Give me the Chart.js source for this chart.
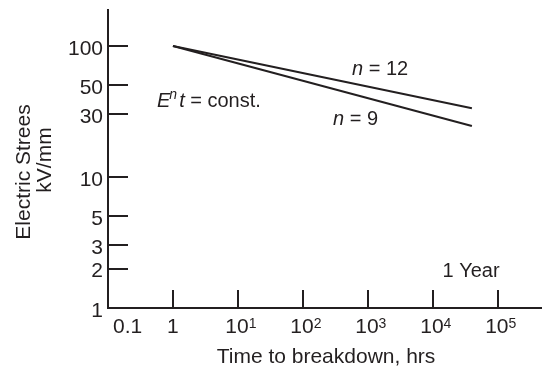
<!DOCTYPE html>
<html lang="en">
<head>
<meta charset="UTF-8" />
<title>Electric stress vs time to breakdown</title>
<style>
  body { margin: 0; background: #fff; }
  #wrap { width: 542px; height: 372px; }
</style>
</head>
<body>
<div id="wrap"><canvas id="lifeChart" width="542" height="372"></canvas></div>
<script src="https://cdn.jsdelivr.net/npm/chart.js"></script>
<script>
  // end points of the two life lines (time in hrs, stress in kV/mm)
  const timeHours = [1, 40000];
  const stressN12 = [100, 33.5];
  const stressN9 = [100, 24.5];

  // axis ticks
  const xTickValues = [0.1, 1, 10, 100, 1000, 10000, 100000];
  const xTickLabels = ['0.1', '1', '10^1', '10^2', '10^3', '10^4', '10^5'];
  const yTickValues = [1, 2, 3, 5, 10, 30, 50, 100];
  const yTickLabels = ['1', '2', '3', '5', '10', '30', '50', '100'];

  const ink = '#231f20';
  const fam = '"Liberation Sans", Arial, sans-serif';

  function toPoints(xs, ys) {
    return xs.map((x, i) => ({ x: x, y: ys[i] }));
  }

  // draws a run of text pieces one after another, [text, font, dy, dx]
  function drawRun(ctx, x, y, parts) {
    ctx.textAlign = 'left';
    ctx.textBaseline = 'alphabetic';
    parts.forEach(p => {
      ctx.font = p[1];
      x += p[3] || 0;
      ctx.fillText(p[0], x, y + (p[2] || 0));
      x += ctx.measureText(p[0]).width;
    });
  }

  const axisDecor = {
    id: 'axisDecor',
    afterDraw(chart) {
      const ctx = chart.ctx;
      const xs = chart.scales.x;
      const ys = chart.scales.y;
      const area = chart.chartArea;
      ctx.save();
      ctx.strokeStyle = ink;
      ctx.fillStyle = ink;
      ctx.lineWidth = 2;

      // inward tick marks
      xTickValues.forEach(v => {
        if (v <= xs.min) return;
        const px = Math.round(xs.getPixelForValue(v));
        ctx.beginPath();
        ctx.moveTo(px, area.bottom);
        ctx.lineTo(px, area.bottom - 18);
        ctx.stroke();
      });
      yTickValues.forEach(v => {
        if (v <= ys.min) return;
        const py = Math.round(ys.getPixelForValue(v));
        ctx.beginPath();
        ctx.moveTo(area.left, py);
        ctx.lineTo(area.left + 20, py);
        ctx.stroke();
      });

      // y tick labels
      ctx.font = '21px ' + fam;
      ctx.textAlign = 'right';
      ctx.textBaseline = 'middle';
      yTickValues.forEach((v, i) => {
        const py = ys.getPixelForValue(v);
        ctx.fillText(yTickLabels[i], area.left - 5, py + 3);
      });

      // x tick labels, powers of ten with a raised exponent
      const base = area.bottom + 25;
      xTickValues.forEach((v, i) => {
        const px = xs.getPixelForValue(v);
        const lab = xTickLabels[i];
        if (lab.indexOf('^') < 0) {
          ctx.font = '21px ' + fam;
          ctx.textBaseline = 'alphabetic';
          if (v <= xs.min) {
            ctx.textAlign = 'left';
            ctx.fillText(lab, px + 5, base);
          } else {
            ctx.textAlign = 'center';
            ctx.fillText(lab, px, base);
          }
          return;
        }
        const bits = lab.split('^');
        ctx.font = '21px ' + fam;
        const w1 = ctx.measureText(bits[0]).width;
        ctx.font = '14px ' + fam;
        const w2 = ctx.measureText(bits[1]).width;
        drawRun(ctx, px - (w1 + w2) / 2 + 3, base, [
          [bits[0], '21px ' + fam],
          [bits[1], '14px ' + fam, -5]
        ]);
      });

      // axis titles
      ctx.font = '21px ' + fam;
      ctx.textAlign = 'center';
      ctx.textBaseline = 'alphabetic';
      ctx.fillText('Time to breakdown, hrs', 326, 363);

      ctx.save();
      ctx.translate(30, 172);
      ctx.rotate(-Math.PI / 2);
      ctx.fillText('Electric Strees', 0, 0);
      ctx.restore();
      ctx.save();
      ctx.translate(51, 160);
      ctx.rotate(-Math.PI / 2);
      ctx.fillText('kV/mm', 0, 0);
      ctx.restore();

      // annotations
      const it = 'italic 20px ' + fam;
      const up = '20px ' + fam;
      drawRun(ctx, 352, 75, [['n', it], [' = 12', up]]);
      drawRun(ctx, 333, 125, [['n', it], [' = 9', up]]);
      drawRun(ctx, 157, 107, [
        ['E', it],
        ['n', 'italic 14px ' + fam, -8, -1],
        ['t', it, 0, 2],
        [' = const.', up]
      ]);
      ctx.font = up;
      ctx.textAlign = 'center';
      ctx.fillText('1 Year', 471, 277);

      ctx.restore();
    }
  };

  const lineStyle = {
    borderColor: ink,
    borderWidth: 2,
    pointRadius: 0,
    fill: false,
    tension: 0
  };

  new Chart(document.getElementById('lifeChart'), {
    type: 'line',
    data: {
      datasets: [
        Object.assign({ label: 'n = 12', data: toPoints(timeHours, stressN12) }, lineStyle),
        Object.assign({ label: 'n = 9', data: toPoints(timeHours, stressN9) }, lineStyle)
      ]
    },
    options: {
      responsive: false,
      animation: false,
      devicePixelRatio: 1,
      layout: { padding: { left: 108, top: 10, right: 0, bottom: 64 } },
      plugins: { legend: { display: false }, tooltip: { enabled: false } },
      scales: {
        x: {
          type: 'logarithmic',
          min: 0.1,
          max: 480000,
          ticks: { display: false },
          grid: { display: false, drawTicks: false },
          border: { display: true, color: ink, width: 2 }
        },
        y: {
          type: 'logarithmic',
          min: 1,
          max: 188,
          ticks: { display: false },
          grid: { display: false, drawTicks: false },
          border: { display: true, color: ink, width: 2 }
        }
      }
    },
    plugins: [axisDecor]
  });
</script>
</body>
</html>
